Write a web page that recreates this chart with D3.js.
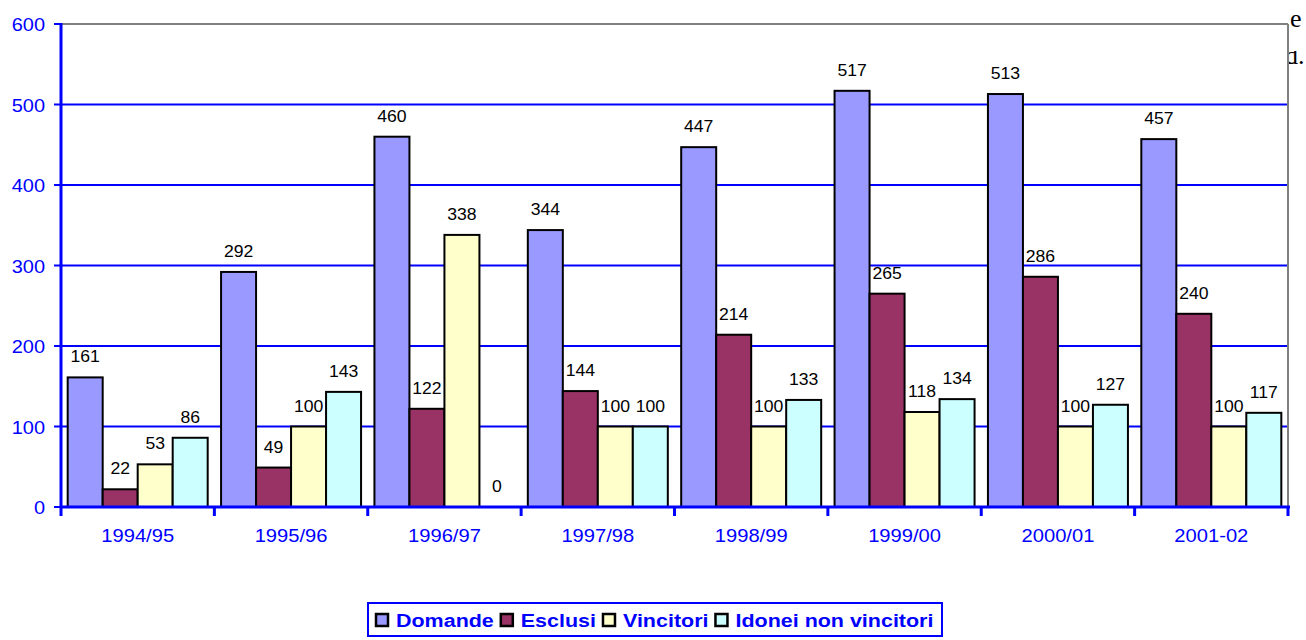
<!DOCTYPE html>
<html>
<head>
<meta charset="utf-8">
<script src="https://cdn.jsdelivr.net/npm/d3@7"></script>
<style>
  html, body { margin: 0; padding: 0; background: #fff; }
  svg { display: block; font-family: Arial, "Liberation Sans", sans-serif; }
</style>
</head>
<body>
<svg id="chart" width="1306" height="640"></svg>
<script>
// Academic years
const categories = ["1994/95", "1995/96", "1996/97", "1997/98", "1998/99", "1999/00", "2000/01", "2001-02"];

// Series values per year
const domande = [161, 292, 460, 344, 447, 517, 513, 457];
const esclusi = [22, 49, 122, 144, 214, 265, 286, 240];
const vincitori = [53, 100, 338, 100, 100, 118, 100, 100];
const idonei = [86, 143, 0, 100, 133, 134, 127, 117];

const seriesNames = ["Domande", "Esclusi", "Vincitori", "Idonei non vincitori"];
const seriesColors = ["#9999FF", "#993366", "#FFFFCC", "#CCFFFF"];
const seriesValues = [domande, esclusi, vincitori, idonei];

const yTicks = [0, 100, 200, 300, 400, 500, 600];

const svg = d3.select("#chart");
const blue = "#0000FF";
const plotLeft = 61, plotRight = 1288, plotTop = 24, plotBottom = 507;

const x0 = d3.scaleBand().domain(categories).range([plotLeft, plotRight]).padding(0);
const bw = x0.bandwidth();
const x1 = d3.scaleBand().domain(seriesNames).range([bw / 2 - 70, bw / 2 + 70]).padding(0);
const y = d3.scaleLinear().domain([0, 600]).range([plotBottom, plotTop]);

// Stray text of the surrounding page peeking in at the top right
svg.append("text").attr("x", 1290).attr("y", 27)
  .style("font-family", "'Liberation Serif', 'Times New Roman', serif")
  .style("font-size", "26px").attr("fill", "#000").text("e");
svg.append("clipPath").attr("id", "cut").append("rect")
  .attr("x", 1289).attr("y", 51).attr("width", 20).attr("height", 20);
svg.append("text").attr("x", 1285).attr("y", 64).attr("clip-path", "url(#cut)")
  .style("font-family", "'Liberation Serif', 'Times New Roman', serif")
  .style("font-size", "26px").attr("fill", "#000").text("d.");

// Horizontal gridlines
svg.append("g").selectAll("line")
  .data(yTicks.filter(t => t > 0 && t < 600))
  .join("line")
  .attr("x1", plotLeft).attr("x2", plotRight)
  .attr("y1", d => y(d)).attr("y2", d => y(d))
  .attr("stroke", blue).attr("stroke-width", 2);

// Plot area frame: top and right edges
svg.append("line").attr("x1", plotLeft).attr("x2", plotRight).attr("y1", y(600)).attr("y2", y(600))
  .attr("stroke", "#808080").attr("stroke-width", 2);
svg.append("line").attr("x1", plotRight).attr("x2", plotRight).attr("y1", y(600)).attr("y2", y(0))
  .attr("stroke", "#808080").attr("stroke-width", 2);

// Bars
const groups = svg.append("g").selectAll("g")
  .data(categories)
  .join("g")
  .attr("transform", d => `translate(${x0(d)},0)`);

groups.selectAll("rect")
  .data((d, i) => seriesNames.map((s, j) => ({ s, j, v: seriesValues[j][i] })).filter(e => e.v > 0))
  .join("rect")
  .attr("x", d => x1(d.s))
  .attr("width", x1.bandwidth())
  .attr("y", d => y(d.v))
  .attr("height", d => y(0) - y(d.v))
  .attr("fill", d => seriesColors[d.j])
  .attr("stroke", "#000").attr("stroke-width", 2);

// Value labels
groups.selectAll("text")
  .data((d, i) => seriesNames.map((s, j) => ({ s, j, v: seriesValues[j][i] })))
  .join("text")
  .attr("text-anchor", "middle")
  .attr("transform", d => `translate(${x1(d.s) + x1.bandwidth() / 2},${y(d.v) - 15}) scale(1.1,1)`)
  .style("font-size", "16px").attr("fill", "#000")
  .text(d => d.v);

// Y axis
const yAxis = svg.append("g");
yAxis.append("line").attr("x1", plotLeft).attr("x2", plotLeft).attr("y1", y(600) - 1).attr("y2", y(0) + 1)
  .attr("stroke", blue).attr("stroke-width", 3);
yAxis.selectAll("line.tick").data(yTicks).join("line").attr("class", "tick")
  .attr("x1", plotLeft - 7).attr("x2", plotLeft)
  .attr("y1", d => y(d)).attr("y2", d => y(d))
  .attr("stroke", blue).attr("stroke-width", 2);
yAxis.selectAll("text").data(yTicks).join("text")
  .attr("text-anchor", "end")
  .attr("transform", d => `translate(${plotLeft - 16},${y(d) + 7}) scale(1.05,1)`)
  .style("font-size", "19px").attr("fill", blue)
  .text(d => d);

// X axis
const xAxis = svg.append("g");
xAxis.append("line").attr("x1", plotLeft - 1).attr("x2", plotRight + 2).attr("y1", y(0)).attr("y2", y(0))
  .attr("stroke", blue).attr("stroke-width", 3);
const bounds = categories.map(c => x0(c)).concat([plotRight]);
xAxis.selectAll("line.tick").data(bounds).join("line").attr("class", "tick")
  .attr("x1", d => d).attr("x2", d => d)
  .attr("y1", y(0)).attr("y2", y(0) + 9)
  .attr("stroke", blue).attr("stroke-width", 3);
xAxis.selectAll("text").data(categories).join("text")
  .attr("text-anchor", "middle")
  .attr("transform", d => `translate(${x0(d) + bw / 2},${y(0) + 35}) scale(1.12,1)`)
  .style("font-size", "18px").attr("fill", blue)
  .text(d => d);

// Legend
const legend = svg.append("g");
legend.append("rect").attr("x", 368).attr("y", 603).attr("width", 574).attr("height", 33)
  .attr("fill", "#fff").attr("stroke", blue).attr("stroke-width", 2);
let lx = 376;
seriesNames.forEach((name, j) => {
  legend.append("rect").attr("x", lx).attr("y", 614).attr("width", 12).attr("height", 12)
    .attr("fill", seriesColors[j]).attr("stroke", "#000").attr("stroke-width", 2.5);
  const t = legend.append("text")
    .attr("transform", `translate(${lx + 20},627) scale(1.22,1)`)
    .style("font-size", "17.6px").style("font-weight", "bold").attr("fill", blue)
    .text(name);
  const w = t.node().getComputedTextLength() * 1.22;
  lx += 20 + w + 7;
});
</script>
</body>
</html>
